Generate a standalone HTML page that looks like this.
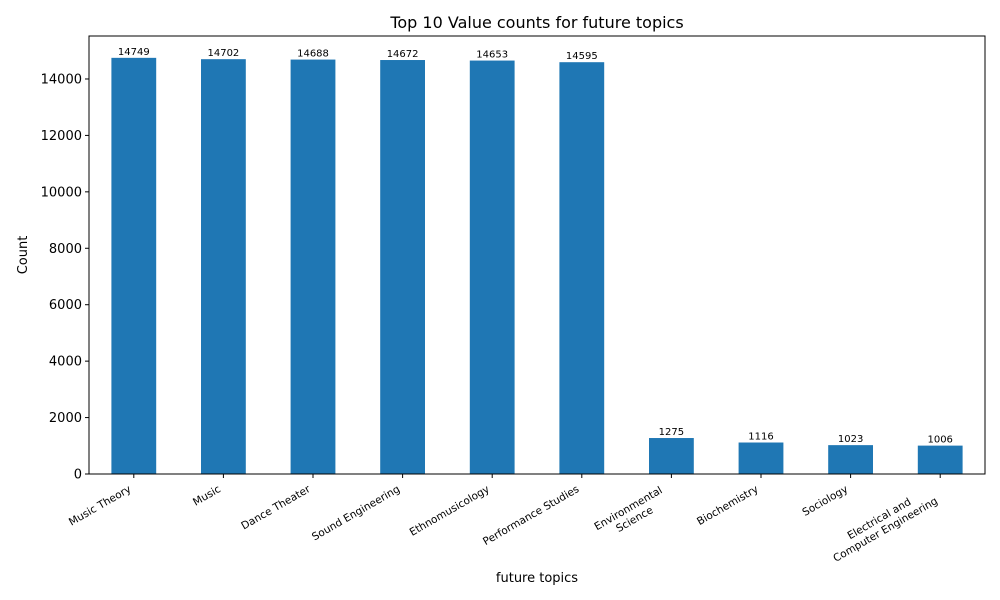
<!DOCTYPE html>
<html><head><meta charset="utf-8"><style>body{margin:0;background:#fff}svg{display:block;font-family:"DejaVu Sans","Liberation Sans",sans-serif}</style></head>
<body>
<svg id="chart" width="1000" height="600" xmlns="http://www.w3.org/2000/svg">
<rect width="1000" height="600" fill="#fff"/>
<text x="537" y="28" font-size="16" text-anchor="middle">Top 10 Value counts for future topics</text>
<text transform="translate(27,255) rotate(-90)" font-size="13" text-anchor="middle">Count</text>
<text x="537" y="582" font-size="13" text-anchor="middle">future topics</text>
<g id="plot"></g>
</svg>
<script>
const categories = [["Music Theory"],["Music"],["Dance Theater"],["Sound Engineering"],["Ethnomusicology"],["Performance Studies"],["Environmental","Science"],["Biochemistry"],["Sociology"],["Electrical and","Computer Engineering"]];
const counts = [14749,14702,14688,14672,14653,14595,1275,1116,1023,1006];
const yTicks = [0,2000,4000,6000,8000,10000,12000,14000];

const L=89,R=985,T=36,B=474;
const yMax = Math.max(...counts)*1.0525;
const ys = v => B - v/yMax*(B-T);
const step = (R-L)/categories.length;
const xs = i => L + step*(i+0.5);
const NS="http://www.w3.org/2000/svg";
const g=document.getElementById('plot');
function mk(tag,attrs,parent){const e=document.createElementNS(NS,tag);for(const k in attrs)e.setAttribute(k,attrs[k]);(parent||g).appendChild(e);return e;}

yTicks.forEach(t=>{
  const y=ys(t);
  const tk=mk('line',{x1:L-4,x2:L,y1:y,y2:y,stroke:'#000','stroke-width':1});
  
  
  const lb=mk('text',{x:L-7,y:y+4.5,'font-size':13,'text-anchor':'end'});
  lb.textContent=t;
  
  
});

counts.forEach((v,i)=>{
  const cx=xs(i), w=step*0.5;
  const r=mk('rect',{x:cx-w/2,y:ys(v),width:w,height:B-ys(v),fill:'#1f77b4'});
  
  
  const vl=mk('text',{x:cx,y:ys(v)-3,'font-size':10,'text-anchor':'middle'});
  vl.textContent=v;
  
  
  const tk=mk('line',{x1:cx,x2:cx,y1:B,y2:B+4,stroke:'#000','stroke-width':1});
  
  
  const lines=categories[i];
  const grp=mk('g',{transform:`translate(${cx-2},${491+(lines.length-1)*12}) rotate(-30)`});
  
  
  const widths=lines.map(s=>s.length*5.9);
  const mw=Math.max(...widths);
  lines.forEach((s,j)=>{
    const t=mk('text',{x:lines.length>1?-mw/2:0,y:(j-(lines.length-1))*12.5,'font-size':10.5,'text-anchor':lines.length>1?'middle':'end'},grp);
    t.textContent=s;
  });
});

const fr=mk('rect',{x:L,y:T,width:R-L,height:B-T,fill:'none',stroke:'#000','stroke-width':1});


</script>
</body></html>
